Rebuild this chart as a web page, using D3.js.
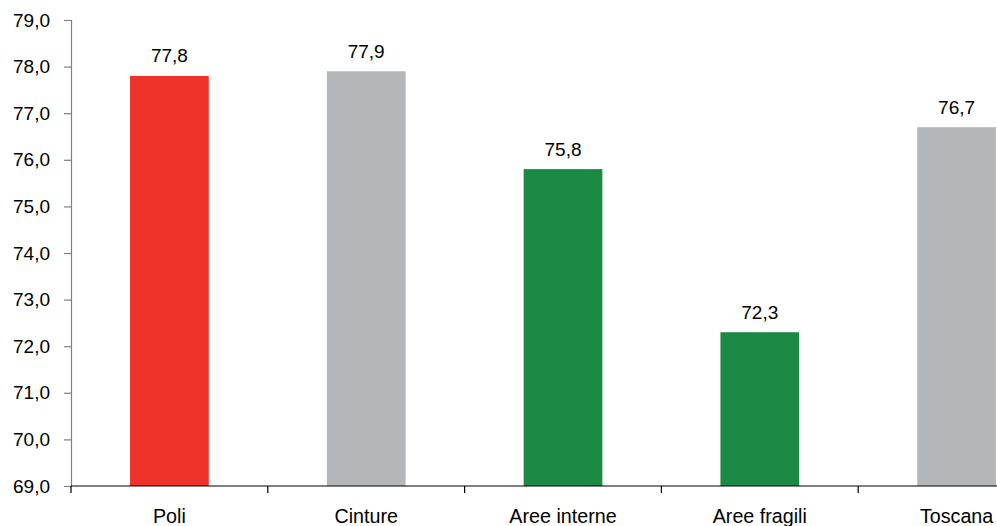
<!DOCTYPE html>
<html>
<head>
<meta charset="utf-8">
<script src="https://cdn.jsdelivr.net/npm/d3@7"></script>
<style>
  html, body { margin: 0; padding: 0; background: #fff; }
  svg { display: block; font-family: "Liberation Sans", Arial, sans-serif; }
</style>
</head>
<body>
<svg id="chart" width="997" height="526"></svg>
<script>
// Categories, values and bar colours
const categories = ["Poli", "Cinture", "Aree interne", "Aree fragili", "Toscana"];
const values = [77.8, 77.9, 75.8, 72.3, 76.7];
const barColors = ["#ee3129", "#b4b7ba", "#1a8a45", "#1a8a45", "#b4b7ba"];
const yTicks = [69, 70, 71, 72, 73, 74, 75, 76, 77, 78, 79];

const fmt = v => v.toFixed(1).replace(".", ",");
const numFont = 19;
const catFont = 19.7;

const svg = d3.select("#chart");
const x0 = 71, step = 196.8;
const x = d3.scaleBand()
  .domain(categories)
  .range([x0, x0 + step * categories.length])
  .paddingInner(0.6)
  .paddingOuter(0.3);
const y = d3.scaleLinear().domain([69, 79]).range([486, 20]);

// Y axis
const yAxis = svg.append("g")
  .attr("transform", `translate(${x0},0)`)
  .call(d3.axisLeft(y).tickValues(yTicks).tickFormat(fmt).tickSize(7).tickPadding(14));
yAxis.select(".domain").attr("stroke", "#808080").attr("stroke-width", 1.2);
yAxis.selectAll(".tick line").attr("stroke", "#808080").attr("stroke-width", 1.2);
yAxis.selectAll(".tick text").attr("font-size", numFont).attr("fill", "#000")
  .attr("font-family", "Liberation Sans, Arial, sans-serif");

// Bars
svg.append("g").selectAll("rect")
  .data(categories)
  .join("rect")
  .attr("x", d => x(d))
  .attr("width", x.bandwidth())
  .attr("y", (d, i) => y(values[i]))
  .attr("height", (d, i) => y(69) - y(values[i]))
  .attr("fill", (d, i) => barColors[i]);

// Value labels
svg.append("g").selectAll("text")
  .data(categories)
  .join("text")
  .attr("x", d => x(d) + x.bandwidth() / 2)
  .attr("y", (d, i) => y(values[i]) - 13.5)
  .attr("text-anchor", "middle")
  .attr("font-size", numFont)
  .attr("fill", "#000")
  .text((d, i) => fmt(values[i]));

// X axis with ticks at category boundaries
const xg = svg.append("g");
xg.append("line")
  .attr("x1", x0).attr("x2", x0 + step * categories.length)
  .attr("y1", y(69)).attr("y2", y(69))
  .attr("stroke", "#000").attr("stroke-width", 1.2);
xg.selectAll("line.tick")
  .data(d3.range(categories.length + 1))
  .join("line")
  .attr("class", "tick")
  .attr("x1", i => x0 + i * step).attr("x2", i => x0 + i * step)
  .attr("y1", y(69)).attr("y2", y(69) + 7)
  .attr("stroke", "#000").attr("stroke-width", 1.2);
xg.selectAll("text")
  .data(categories)
  .join("text")
  .attr("x", d => x(d) + x.bandwidth() / 2)
  .attr("y", 523)
  .attr("text-anchor", "middle")
  .attr("font-size", catFont)
  .attr("fill", "#000")
  .text(d => d);
</script>
</body>
</html>
